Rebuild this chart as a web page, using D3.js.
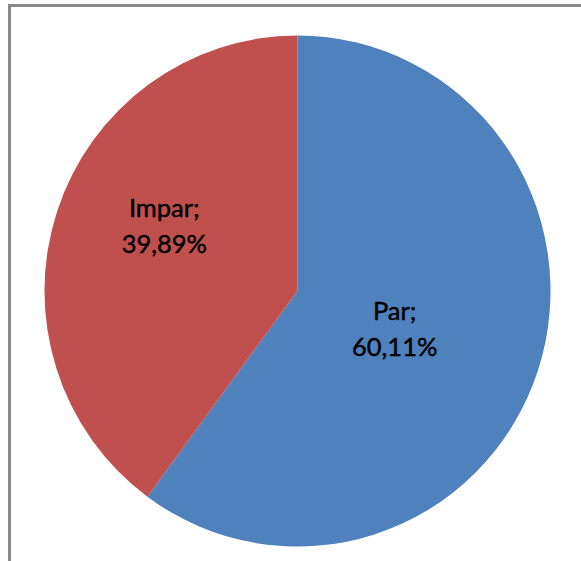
<!DOCTYPE html>
<html>
<head>
<meta charset="utf-8">
<script src="https://cdn.jsdelivr.net/npm/d3@7"></script>
<style>
  html, body { margin: 0; padding: 0; background: #fff; }
  svg { display: block; }
</style>
</head>
<body>
<svg id="chart"></svg>
<script>
// data
const categories = ["Par", "Impar"];
const shares = [60.11, 39.89];
const sliceColors = ["#4F81BD", "#C0504D"];

const width = 581, height = 561;
const cx = 297.5, cy = 291, radius = 253;

const svg = d3.select("#chart")
    .attr("width", width)
    .attr("height", height);

// chart frame (only top and left edges are in view)
svg.append("path")
    .attr("d", `M9.5,${height} V5.5 H${width}`)
    .attr("fill", "none")
    .attr("stroke", "#8a8a8a")
    .attr("stroke-width", 3);

const pieData = categories.map((name, i) => ({ name, value: shares[i] }));

const color = d3.scaleOrdinal()
    .domain(categories)
    .range(sliceColors);

const pie = d3.pie()
    .sort(null)
    .value(d => d.value);

const arc = d3.arc()
    .innerRadius(0)
    .outerRadius(radius);

// labels sit roughly half way out
const labelRadius = radius * 0.5;
const arcLabel = d3.arc()
    .innerRadius(labelRadius)
    .outerRadius(labelRadius);

// small nudges so labels land where Excel put them
const labelNudge = { Par: [-23, -1], Impar: [-13, -24] };

const arcs = pie(pieData);

const g = svg.append("g")
    .attr("transform", `translate(${cx},${cy}) scale(1,1.01)`);

g.append("g")
    .selectAll()
    .data(arcs)
    .join("path")
    .attr("fill", d => color(d.data.name))
    .attr("d", arc);

const fmt = v => v.toFixed(2).replace(".", ",") + "%";

const labels = svg.append("g")
    .attr("text-anchor", "middle")
    .attr("font-family", "Lato, 'Open Sans', sans-serif")
    .attr("font-size", 25.5)
    .attr("fill", "#000")
    .attr("stroke", "#000")
    .attr("stroke-width", 0.45)
    .selectAll()
    .data(arcs)
    .join("text")
    .attr("transform", d => {
        const [x, y] = arcLabel.centroid(d);
        const [nx, ny] = labelNudge[d.data.name];
        return `translate(${cx + x + nx},${cy + y + ny})`;
    });

labels.append("tspan")
    .attr("x", 0)
    .attr("y", -10)
    .text(d => d.data.name + ";");

labels.append("tspan")
    .attr("x", 0)
    .attr("y", 26)
    .text(d => fmt(d.data.value));
</script>
</body>
</html>
